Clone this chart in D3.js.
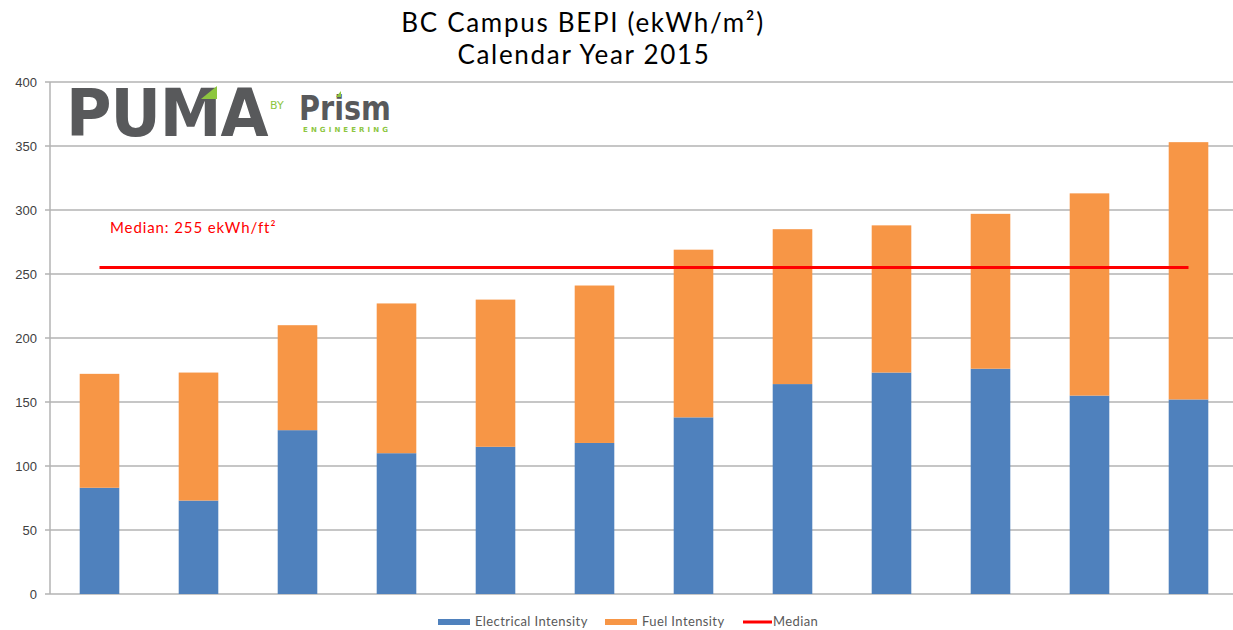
<!DOCTYPE html>
<html>
<head>
<meta charset="utf-8">
<script src="https://cdn.jsdelivr.net/npm/d3@7"></script>
<style>
  body { margin: 0; background: #fff; }
  svg { display: block; }
</style>
</head>
<body>
<div id="chart"></div>
<script>
// chart values
const buildings = ["B1", "B2", "B3", "B4", "B5", "B6", "B7", "B8", "B9", "B10", "B11", "B12"];
const electrical = [83, 73, 128, 110, 115, 118, 138, 164, 173, 176, 155, 152];
const fuel = [89, 100, 82, 117, 115, 123, 131, 121, 115, 121, 158, 201];
const median = 255;
const yTicks = [0, 50, 100, 150, 200, 250, 300, 350, 400];

const width = 1233;
const height = 630;
const margin = {left: 50, right: -5, top: 82, bottom: 36};

const svg = d3.select("#chart")
  .append("svg")
  .attr("width", width)
  .attr("height", height);

// stack the two series
const rows = buildings.map((b, i) => ({name: b, elec: electrical[i], fuel: fuel[i]}));
const stack = d3.stack().keys(["elec", "fuel"])(rows);
const colors = {elec: "#4f81bd", fuel: "#f79646"};

const yScale = d3.scaleLinear()
  .domain([0, 400])
  .range([height - margin.bottom, margin.top]);

const xScale = d3.scaleBand()
  .domain(buildings)
  .range([margin.left, width - margin.right])
  .paddingInner(0.6)
  .paddingOuter(0.3);

// gridlines
svg.append("g")
  .selectAll("line")
  .data(yTicks)
  .enter()
  .append("line")
    .attr("x1", margin.left - 5)
    .attr("x2", width)
    .attr("y1", d => yScale(d))
    .attr("y2", d => yScale(d))
    .attr("stroke", "#b3b3b3")
    .attr("stroke-width", 1.5);

// y axis line
svg.append("line")
  .attr("x1", margin.left).attr("x2", margin.left)
  .attr("y1", yScale(400)).attr("y2", yScale(0))
  .attr("stroke", "#b3b3b3")
  .attr("stroke-width", 1.5);

// y tick labels
svg.append("g")
  .selectAll("text")
  .data(yTicks)
  .enter()
  .append("text")
    .attr("x", 37)
    .attr("y", d => yScale(d) + 4.5)
    .attr("text-anchor", "end")
    .attr("font-family", "Liberation Sans, Arial, sans-serif")
    .attr("font-size", "13px")
    .attr("fill", "#404040")
    .text(d => d);

// bars
svg.append("g")
  .selectAll("g")
  .data(stack)
  .enter()
  .append("g")
    .attr("fill", d => colors[d.key])
  .selectAll("rect")
  .data(d => d)
  .enter()
  .append("rect")
    .attr("x", d => xScale(d.data.name))
    .attr("y", d => yScale(d[1]))
    .attr("width", xScale.bandwidth())
    .attr("height", d => yScale(d[0]) - yScale(d[1]));

// median line
const first = buildings[0], last = buildings[buildings.length - 1];
svg.append("line")
  .attr("x1", xScale(first) + xScale.bandwidth() / 2)
  .attr("x2", xScale(last) + xScale.bandwidth() / 2)
  .attr("y1", yScale(median))
  .attr("y2", yScale(median))
  .attr("stroke", "#ff0000")
  .attr("stroke-width", 3);

svg.append("text")
  .attr("x", 110)
  .attr("y", 233)
  .attr("font-family", "Lato, sans-serif")
  .attr("font-size", "15px")
  .attr("letter-spacing", "0.9px")
  .attr("fill", "#ff0000")
  .text("Median: " + median + " ekWh/ft²");

// title
const title = svg.append("text")
  .attr("text-anchor", "middle")
  .attr("font-family", "Lato, sans-serif")
  .attr("font-size", "26px")
  .attr("letter-spacing", "1.7px")
  .attr("fill", "#000");
title.append("tspan").attr("x", 583).attr("y", 32).text("BC Campus BEPI (ekWh/m²)");
title.append("tspan").attr("x", 584).attr("y", 64).text("Calendar Year 2015");

// logo
const logo = svg.append("g");
logo.append("text")
  .attr("transform", "translate(66,136) scale(1.09,1.15)")
  .attr("font-family", "DejaVu Sans, sans-serif")
  .attr("font-weight", "bold")
  .attr("font-size", "57px")
  .attr("letter-spacing", "-1px")
  .attr("fill", "#58595b")
  .text("PUMA");
logo.append("path")
  .attr("d", "M201,99 L217,86 L217,99 Z")
  .attr("fill", "#8dc63f");
logo.append("text")
  .attr("x", 270).attr("y", 109)
  .attr("font-family", "DejaVu Sans, sans-serif")
  .attr("font-size", "11px")
  .attr("fill", "#8dc63f")
  .text("BY");
logo.append("text")
  .attr("x", 299).attr("y", 120)
  .attr("font-family", "DejaVu Sans, sans-serif")
  .attr("font-weight", "bold")
  .attr("font-size", "34px")
  .attr("textLength", 92)
  .attr("lengthAdjust", "spacingAndGlyphs")
  .attr("fill", "#58595b")
  .text("Prism");
logo.append("path")
  .attr("d", "M336,97 L341,91 L341,97 Z")
  .attr("fill", "#8dc63f");
logo.append("text")
  .attr("x", 303).attr("y", 132)
  .attr("font-family", "DejaVu Sans, sans-serif")
  .attr("font-weight", "bold")
  .attr("font-size", "7px")
  .attr("textLength", 85)
  .attr("fill", "#8dc63f")
  .text("ENGINEERING");

// legend
const legendItems = [
  {label: "Electrical Intensity", color: colors.elec, type: "rect", x: 438},
  {label: "Fuel Intensity", color: colors.fuel, type: "rect", x: 605},
  {label: "Median", color: "#ff0000", type: "line", x: 743}
];
const legend = svg.append("g");
legendItems.forEach(d => {
  if (d.type === "rect") {
    legend.append("rect")
      .attr("x", d.x).attr("y", 619)
      .attr("width", 32).attr("height", 6)
      .attr("fill", d.color);
  } else {
    legend.append("line")
      .attr("x1", d.x).attr("x2", d.x + 29)
      .attr("y1", 622).attr("y2", 622)
      .attr("stroke", d.color).attr("stroke-width", 3);
  }
  legend.append("text")
    .attr("x", d.type === "rect" ? d.x + 37 : d.x + 30)
    .attr("y", 626)
    .attr("font-family", "Lato, sans-serif")
    .attr("font-size", "13px")
    .attr("letter-spacing", "0.4px")
    .attr("fill", "#595959")
    .text(d.label);
});
</script>
</body>
</html>
